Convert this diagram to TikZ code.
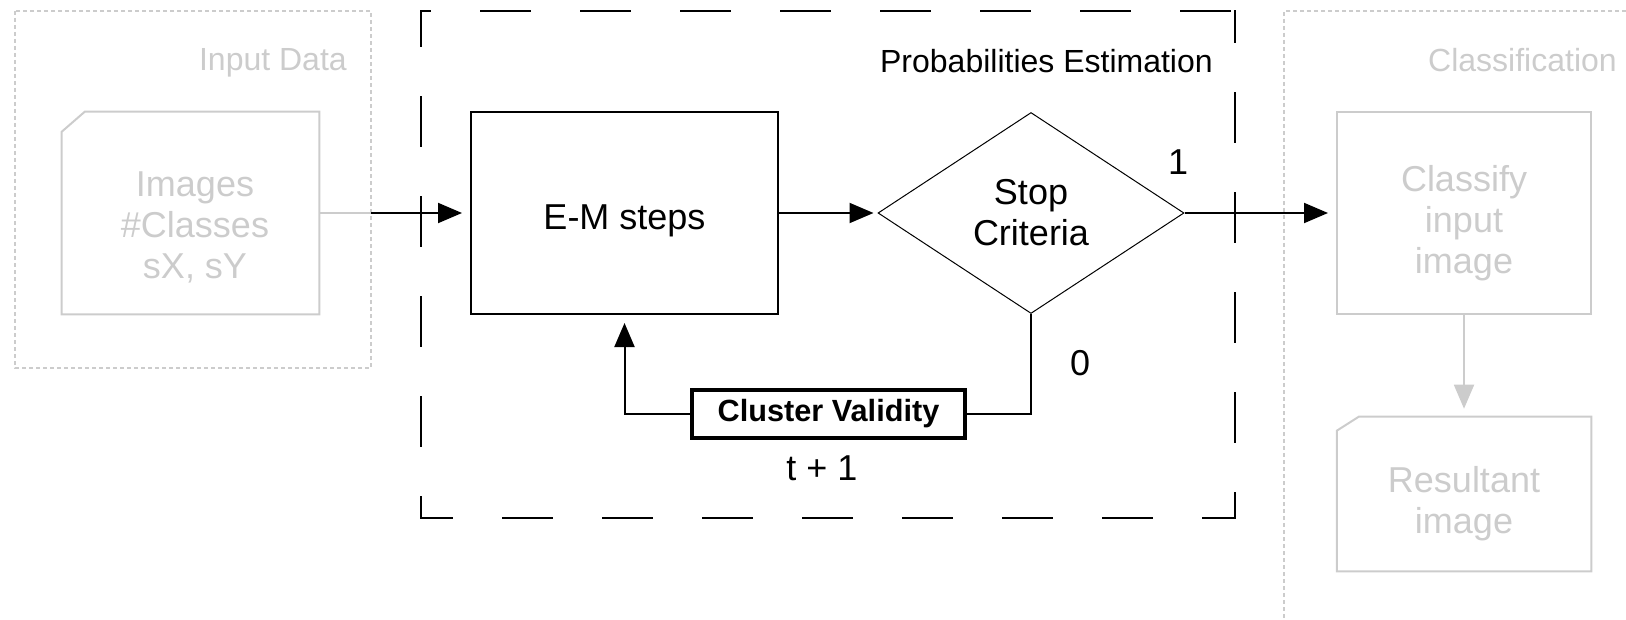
\documentclass[tikz,border=0pt]{standalone}
\usepackage{fontspec}
\setmainfont{Liberation Sans}
\usepackage{xcolor}
\usepackage{tikz}
\usetikzlibrary{arrows.meta,shapes.geometric,calc}

\definecolor{ghost}{RGB}{204,204,204}

\begin{document}
\begin{tikzpicture}[x=0.75pt,y=0.75pt,yscale=-1,xscale=1,
  txt/.style={font=\fontsize{27}{30.75}\selectfont, align=center, inner sep=0pt},
  hdr/.style={font=\fontsize{24}{28}\selectfont, inner sep=0pt, anchor=east},
  flow/.style={line width=1.5pt, -{Triangle[length=18pt,width=15pt]}, shorten >=6pt},
  bigdash/.style={line width=1.5pt, line cap=rect, dash pattern=on 36.5pt off 38.5pt},
  ghostdash/.style={draw=ghost, line width=1.5pt, dash pattern=on 3pt off 2.25pt}]
%set diagram to the size of the original
\useasboundingbox (0,0) rectangle (1626,620);

%Shape: Dashed Frames
\draw[ghostdash] (15,11) rectangle (371,368);
\draw[bigdash, dash phase=30pt] (421,11) -- (1235,11);
\draw[bigdash, dash phase=10.5pt] (421,11) -- (421,518);
\draw[bigdash, dash phase=13.5pt] (1235,11) -- (1235,518);
\draw[bigdash, dash phase=13.5pt] (421,518) -- (1235,518);
\draw[ghostdash] (1640,11) -- (1284,11) -- (1284,630);

% Text Node
\node[hdr, text=ghost] (inhdr) at (347,63) {Input Data};
% Text Node
\node[hdr] (esthdr) at (1213,61) {Probabilities Estimation};
% Text Node
\node[hdr, text=ghost] (clshdr) at (1617,60) {Classification};

%Shape: Card (input)
\node[minimum width=192.75pt, minimum height=151.5pt] (inp) at (190.5,213) {};
\draw[ghost, line width=1.5pt] ($(inp.north west)+(0,20)$) -- ($(inp.north west)+(23,0)$) -- (inp.north east) -- (inp.south east) -- (inp.south west) -- cycle;
% Text Node
\node[txt, text=ghost] (inptxt) at (195,227) {Images\\\#Classes\\sX, sY};

%Shape: Rectangle
\node[draw, line width=1.5pt, minimum width=230.25pt, minimum height=151.5pt] (em) at (624.5,213) {};
% Text Node
\node[txt] (emtxt) at (624.5,221) {E-M steps};

%Shape: Diamond
\node[txt, diamond, draw, line width=0.75pt, aspect=1.52, minimum width=229.5pt, minimum height=150.75pt] (stop) at (1031,213) {Stop\\Criteria};

%Shape: Rectangle
\node[draw, line width=3pt, minimum width=204.75pt, minimum height=36pt, inner sep=0pt, font=\bfseries\fontsize{23}{27}\selectfont] (valid) at (828.5,414) {Cluster Validity};

%Shape: Rectangle (classify)
\node[draw=ghost, line width=1.5pt, minimum width=190.5pt, minimum height=151.5pt] (cls) at (1464,213) {};
% Text Node
\node[txt, text=ghost] (clstxt) at (1464,223) {Classify\\input\\image};

%Shape: Card (result)
\node[minimum width=190.5pt, minimum height=115.5pt] (res) at (1464,494) {};
\draw[ghost, line width=1.5pt] ($(res.north west)+(0,14)$) -- ($(res.north west)+(22,0)$) -- (res.north east) -- (res.south east) -- (res.south west) -- cycle;
% Text Node
\node[txt, text=ghost] (restxt) at (1464,504) {Resultant\\image};

% Text Node
\node[txt] (yes) at (1178,162) {1};
% Text Node
\node[txt] (no) at (1080,363) {0};
% Text Node
\node[txt] (iter) at (822,468) {t + 1};

%Straight Lines
\coordinate (inexit) at (371,213);
\draw[ghost, line width=1.5pt] (inp) -- (inexit);
\draw[flow] (inexit) -- (em);
\draw[flow, shorten >=3pt] (em) -- (stop);
\draw[flow] (stop) -- (cls);
\draw[flow, ghost] (cls) -- (res);
%Feedback Lines
\draw[line width=1.5pt] (stop.south) |- (valid.east);
\draw[flow] (valid.west) -| (em.south);
\end{tikzpicture}
\end{document}
